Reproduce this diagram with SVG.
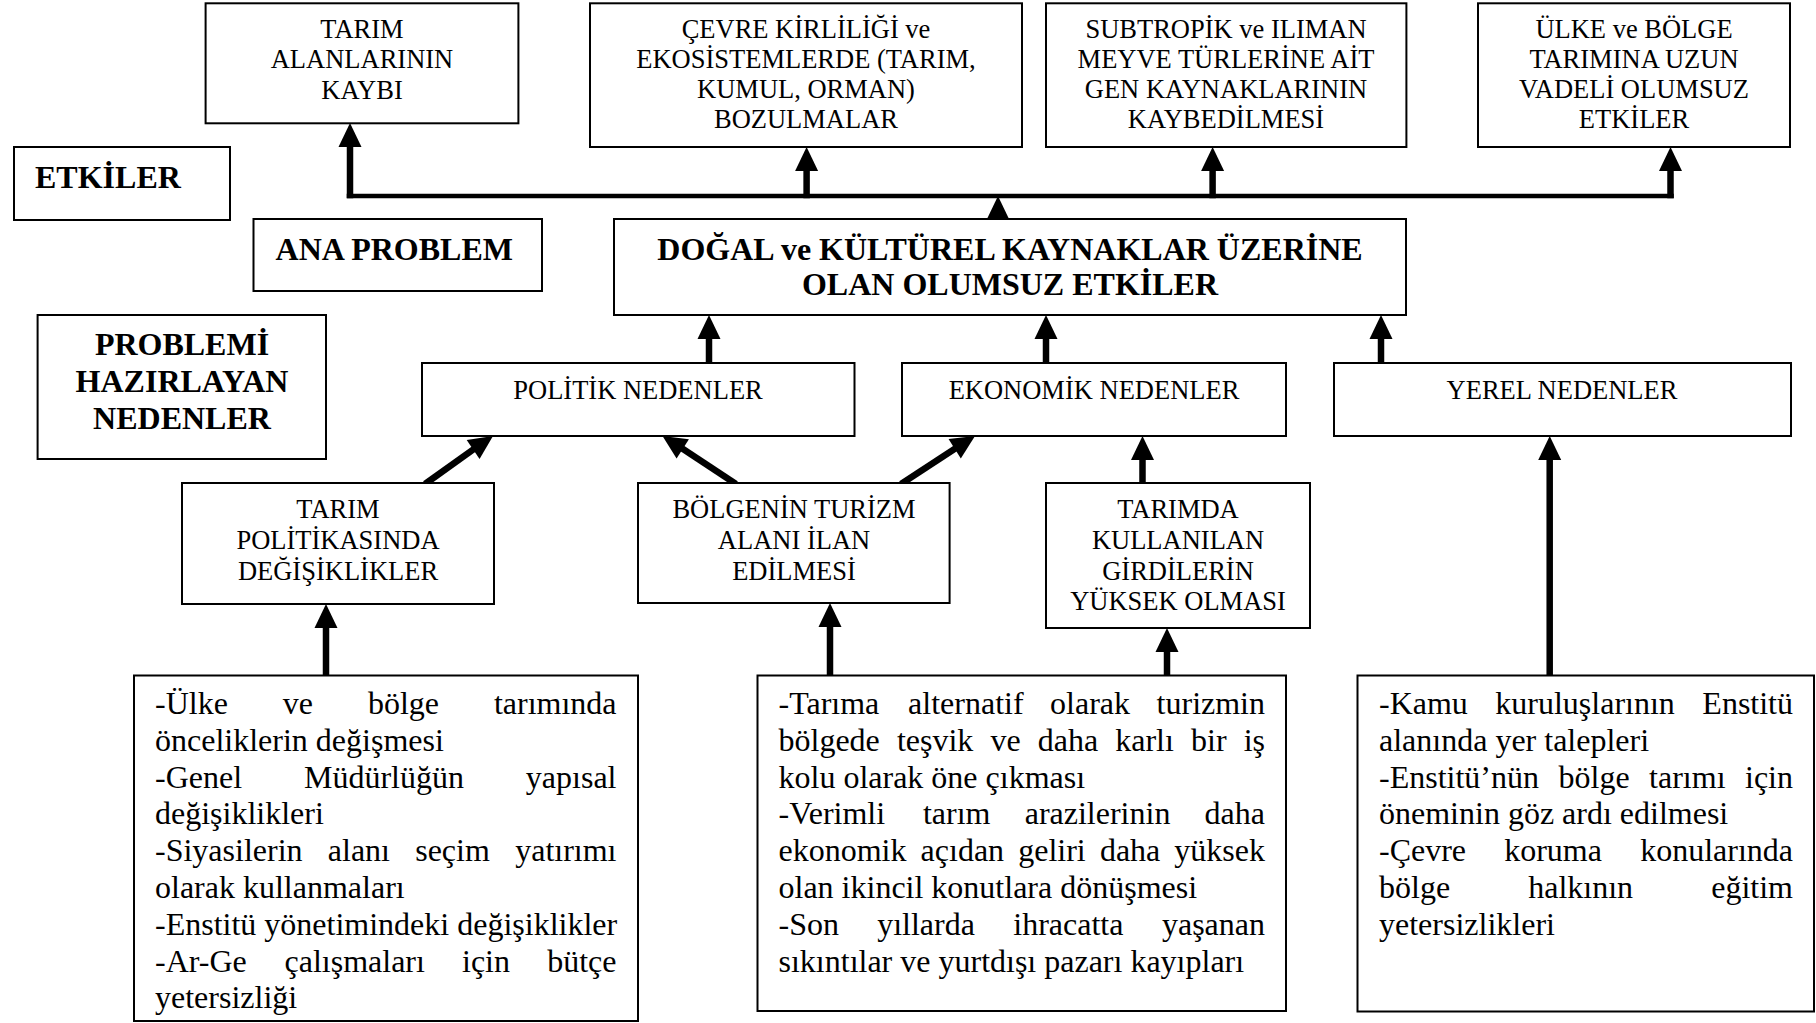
<svg xmlns="http://www.w3.org/2000/svg" width="1816" height="1023" viewBox="0 0 1816 1023">
  <defs>
    <!-- arrowhead, tip at origin, pointing up -->
    <path id="ah" d="M0,0 L11.5,24 L-11.5,24 Z" fill="#000"/>
  </defs>
  <style>
    .box{fill:#fff;stroke:#000;stroke-width:2}
    .t{font-family:"Liberation Serif","Times New Roman",serif;font-size:26.5px;fill:#000;text-anchor:middle}
    .b{font-family:"Liberation Serif","Times New Roman",serif;font-size:32px;font-weight:bold;fill:#000}
    .p{font-family:"Liberation Serif","Times New Roman",serif;font-size:32px;fill:#000}
    .c{text-anchor:middle}
    .e{text-anchor:end}
    .shaft{stroke:#000;stroke-width:6.5;fill:none}
    .trunk{stroke:#000;stroke-width:4.5;fill:none}
  </style>
  <rect width="1816" height="1023" fill="#fff"/>

  <!-- connectors -->
  <g id="connectors">
    <path class="trunk" d="M346.75,196 H1673.75"/>
    <path class="shaft" d="M350,198.25 V146"/>
    <use href="#ah" transform="translate(350,123)"/>
    <path class="shaft" d="M806.6,198.25 V170"/>
    <use href="#ah" transform="translate(806.6,147)"/>
    <path class="shaft" d="M1212.6,198.25 V170"/>
    <use href="#ah" transform="translate(1212.6,147)"/>
    <path class="shaft" d="M1670.5,198.25 V170"/>
    <use href="#ah" transform="translate(1670.5,147)"/>
    <use href="#ah" transform="translate(998,196)"/>

    <path class="shaft" d="M709,364 V338"/>
    <use href="#ah" transform="translate(709,315)"/>
    <path class="shaft" d="M1046,364 V338"/>
    <use href="#ah" transform="translate(1046,315)"/>
    <path class="shaft" d="M1381,364 V338"/>
    <use href="#ah" transform="translate(1381,315)"/>

    <path class="shaft" d="M425,484 L474.8,448.3"/>
    <use href="#ah" transform="translate(493,436) rotate(55.9)"/>
    <path class="shaft" d="M736,484 L681.1,447.8"/>
    <use href="#ah" transform="translate(662.5,436) rotate(-57.6)"/>
    <path class="shaft" d="M901,484 L956.4,447.7"/>
    <use href="#ah" transform="translate(975,436) rotate(57.8)"/>
    <path class="shaft" d="M1142.5,484 V459"/>
    <use href="#ah" transform="translate(1142.5,436)"/>

    <path class="shaft" d="M326,677 V627"/>
    <use href="#ah" transform="translate(326,604)"/>
    <path class="shaft" d="M830,677 V626"/>
    <use href="#ah" transform="translate(830,603)"/>
    <path class="shaft" d="M1167,677 V651"/>
    <use href="#ah" transform="translate(1167,628)"/>
    <path class="shaft" d="M1549.7,677 V459"/>
    <use href="#ah" transform="translate(1549.7,436)"/>
  </g>

  <!-- legend labels -->
  <g id="lbl-etkiler">
    <rect class="box" x="14" y="147" width="216" height="73"/>
    <text class="b" x="35" y="188">ETKİLER</text>
  </g>
  <g id="lbl-ana-problem">
    <rect class="box" x="253.5" y="219" width="288.5" height="72"/>
    <text class="b" x="275.6" y="260">ANA PROBLEM</text>
  </g>
  <g id="lbl-nedenler">
    <rect class="box" x="37.6" y="315" width="288.4" height="144"/>
    <text class="b c" x="182" y="355">PROBLEMİ</text>
    <text class="b c" x="182" y="392">HAZIRLAYAN</text>
    <text class="b c" x="182" y="429">NEDENLER</text>
  </g>

  <!-- effects -->
  <g id="etki-tarim">
    <rect class="box" x="205.6" y="3.3" width="312.8" height="120"/>
    <text class="t" x="362" y="38.3">TARIM</text>
    <text class="t" x="362" y="68.3">ALANLARININ</text>
    <text class="t" x="362" y="98.5">KAYBI</text>
  </g>
  <g id="etki-cevre">
    <rect class="box" x="590" y="3.3" width="432" height="143.7"/>
    <text class="t" x="806" y="38.3">ÇEVRE KİRLİLİĞİ ve</text>
    <text class="t" x="806" y="68.3">EKOSİSTEMLERDE (TARIM,</text>
    <text class="t" x="806" y="98.3">KUMUL, ORMAN)</text>
    <text class="t" x="806" y="128.3">BOZULMALAR</text>
  </g>
  <g id="etki-gen">
    <rect class="box" x="1046" y="3.3" width="360.4" height="143.7"/>
    <text class="t" x="1226" y="38.3">SUBTROPİK ve ILIMAN</text>
    <text class="t" x="1226" y="68.3">MEYVE TÜRLERİNE AİT</text>
    <text class="t" x="1226" y="98.3">GEN KAYNAKLARININ</text>
    <text class="t" x="1226" y="128.3">KAYBEDİLMESİ</text>
  </g>
  <g id="etki-uzun-vade">
    <rect class="box" x="1478" y="3.3" width="312" height="143.7"/>
    <text class="t" x="1634" y="38.3">ÜLKE ve BÖLGE</text>
    <text class="t" x="1634" y="68.3">TARIMINA UZUN</text>
    <text class="t" x="1634" y="98.3">VADELİ OLUMSUZ</text>
    <text class="t" x="1634" y="128.3">ETKİLER</text>
  </g>

  <!-- main problem -->
  <g id="ana-problem">
    <rect class="box" x="614" y="219" width="792" height="96"/>
    <text class="b c" x="1010" y="260">DOĞAL ve KÜLTÜREL KAYNAKLAR ÜZERİNE</text>
    <text class="b c" x="1010" y="295">OLAN OLUMSUZ ETKİLER</text>
  </g>

  <!-- cause groups -->
  <g id="politik">
    <rect class="box" x="422" y="363" width="432.5" height="73"/>
    <text class="t" x="638" y="399">POLİTİK NEDENLER</text>
  </g>
  <g id="ekonomik">
    <rect class="box" x="902" y="363" width="384" height="73"/>
    <text class="t" x="1094" y="399">EKONOMİK NEDENLER</text>
  </g>
  <g id="yerel">
    <rect class="box" x="1334" y="363" width="457" height="73"/>
    <text class="t" x="1562" y="399">YEREL NEDENLER</text>
  </g>

  <!-- specific causes -->
  <g id="tarim-politikasi">
    <rect class="box" x="182" y="483" width="312" height="121"/>
    <text class="t" x="338" y="518">TARIM</text>
    <text class="t" x="338" y="549">POLİTİKASINDA</text>
    <text class="t" x="338" y="580">DEĞİŞİKLİKLER</text>
  </g>
  <g id="turizm">
    <rect class="box" x="638" y="483" width="311.6" height="120"/>
    <text class="t" x="794" y="518">BÖLGENİN TURİZM</text>
    <text class="t" x="794" y="549">ALANI İLAN</text>
    <text class="t" x="794" y="580">EDİLMESİ</text>
  </g>
  <g id="girdiler">
    <rect class="box" x="1046" y="483" width="264" height="145"/>
    <text class="t" x="1178" y="518">TARIMDA</text>
    <text class="t" x="1178" y="549">KULLANILAN</text>
    <text class="t" x="1178" y="580">GİRDİLERİN</text>
    <text class="t" x="1178" y="610">YÜKSEK OLMASI</text>
  </g>

  <!-- detail lists -->
  <g id="detay-politik">
    <rect class="box" x="134" y="675.5" width="504" height="345.5"/>
    <text class="p" y="714"><tspan x="155">-Ülke</tspan><tspan x="282.8">ve</tspan><tspan x="367.9">bölge</tspan><tspan class="e" x="616.5">tarımında</tspan></text>
    <text class="p" x="155" y="750.8">önceliklerin değişmesi</text>
    <text class="p" y="787.6"><tspan x="155">-Genel</tspan><tspan x="304">Müdürlüğün</tspan><tspan class="e" x="616.5">yapısal</tspan></text>
    <text class="p" x="155" y="824.4">değişiklikleri</text>
    <text class="p" y="861.2"><tspan x="155">-Siyasilerin</tspan><tspan x="327.8">alanı</tspan><tspan x="415.2">seçim</tspan><tspan class="e" x="616.5">yatırımı</tspan></text>
    <text class="p" x="155" y="898">olarak kullanmaları</text>
    <text class="p" x="155" y="934.8">-Enstitü yönetimindeki değişiklikler</text>
    <text class="p" y="971.6"><tspan x="155">-Ar-Ge</tspan><tspan x="284.5">çalışmaları</tspan><tspan x="462">için</tspan><tspan class="e" x="616.5">bütçe</tspan></text>
    <text class="p" x="155" y="1008.4">yetersizliği</text>
  </g>
  <g id="detay-ekonomik">
    <rect class="box" x="757.5" y="675.5" width="528.5" height="335.5"/>
    <text class="p" y="714"><tspan x="778.5">-Tarıma</tspan><tspan x="908.1">alternatif</tspan><tspan x="1050.1">olarak</tspan><tspan class="e" x="1265">turizmin</tspan></text>
    <text class="p" y="750.8"><tspan x="778.5">bölgede</tspan><tspan x="896.9">teşvik</tspan><tspan x="990.4">ve</tspan><tspan x="1037.7">daha</tspan><tspan x="1115.2">karlı</tspan><tspan x="1191">bir</tspan><tspan class="e" x="1265">iş</tspan></text>
    <text class="p" x="778.5" y="787.6">kolu olarak öne çıkması</text>
    <text class="p" y="824.4"><tspan x="778.5">-Verimli</tspan><tspan x="922.9">tarım</tspan><tspan x="1024.7">arazilerinin</tspan><tspan class="e" x="1265">daha</tspan></text>
    <text class="p" y="861.2"><tspan x="778.5">ekonomik</tspan><tspan x="920.6">açıdan</tspan><tspan x="1018.2">geliri</tspan><tspan x="1099.9">daha</tspan><tspan class="e" x="1265">yüksek</tspan></text>
    <text class="p" x="778.5" y="898">olan ikincil konutlara dönüşmesi</text>
    <text class="p" y="934.8"><tspan x="778.5">-Son</tspan><tspan x="877.2">yıllarda</tspan><tspan x="1013.3">ihracatta</tspan><tspan class="e" x="1265">yaşanan</tspan></text>
    <text class="p" x="778.5" y="971.6">sıkıntılar ve yurtdışı pazarı kayıpları</text>
  </g>
  <g id="detay-yerel">
    <rect class="box" x="1357.5" y="675.5" width="456.5" height="336"/>
    <text class="p" y="714"><tspan x="1379">-Kamu</tspan><tspan x="1495.3">kuruluşlarının</tspan><tspan class="e" x="1793">Enstitü</tspan></text>
    <text class="p" x="1379" y="750.8">alanında yer talepleri</text>
    <text class="p" y="787.6"><tspan x="1379">-Enstitü’nün</tspan><tspan x="1558.5">bölge</tspan><tspan x="1649.1">tarımı</tspan><tspan class="e" x="1793">için</tspan></text>
    <text class="p" x="1379" y="824.4">öneminin göz ardı edilmesi</text>
    <text class="p" y="861.2"><tspan x="1379">-Çevre</tspan><tspan x="1504.2">koruma</tspan><tspan class="e" x="1793">konularında</tspan></text>
    <text class="p" y="898"><tspan x="1379">bölge</tspan><tspan x="1528.2">halkının</tspan><tspan class="e" x="1793">eğitim</tspan></text>
    <text class="p" x="1379" y="934.8">yetersizlikleri</text>
  </g>
</svg>
